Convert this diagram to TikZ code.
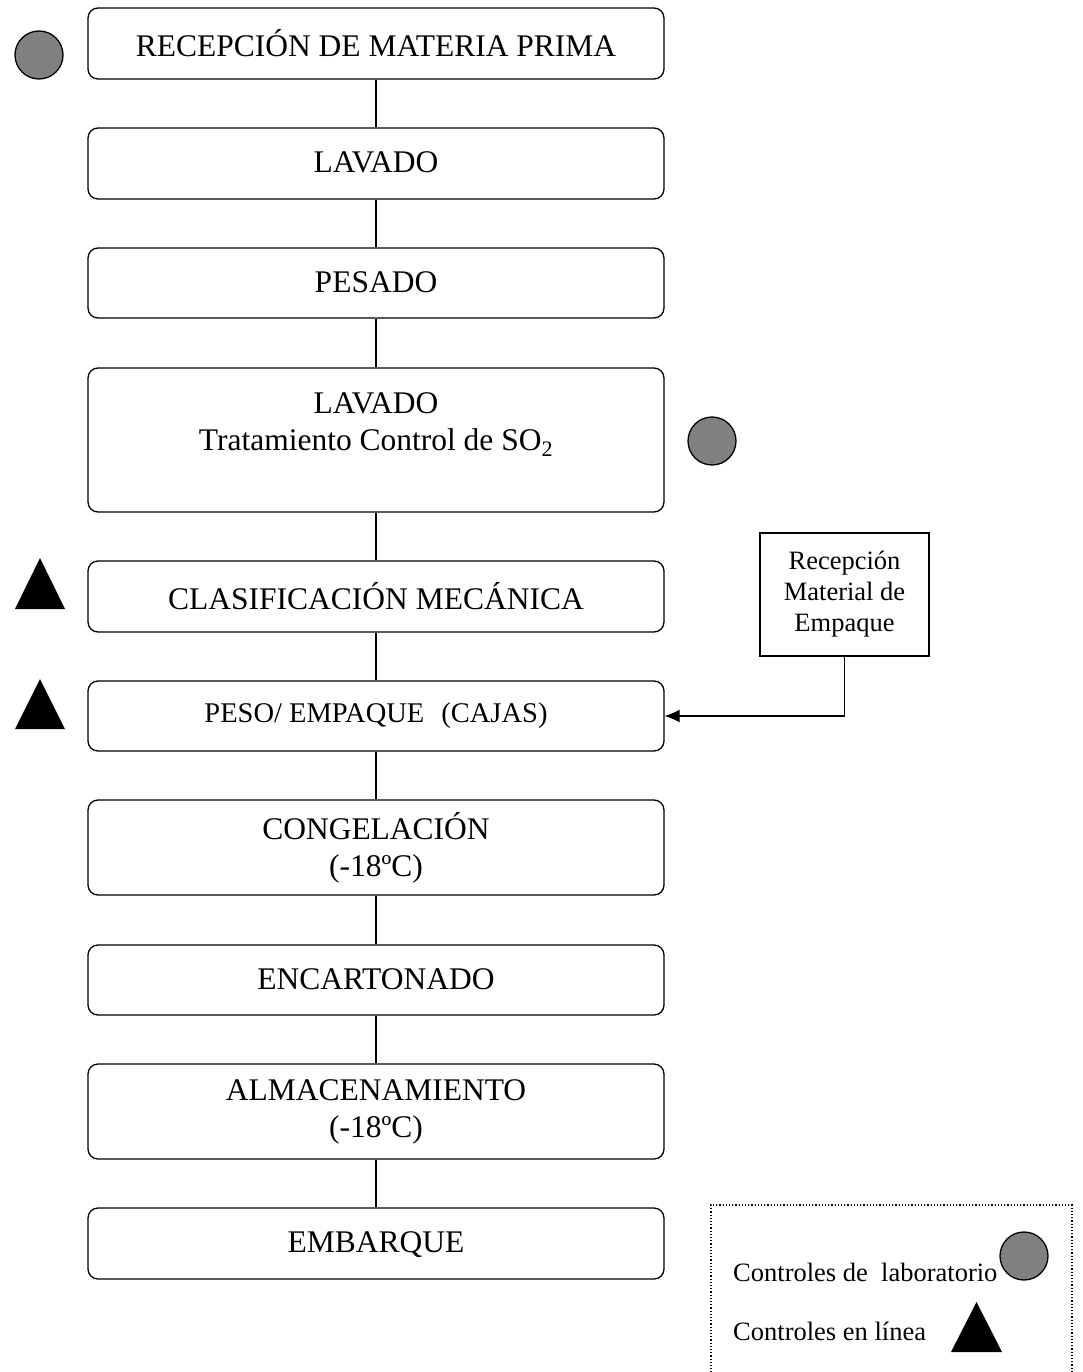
\documentclass[tikz,border=0pt]{standalone}
\usepackage{fontspec}
\setmainfont{Liberation Serif}
\usetikzlibrary{arrows.meta}
\definecolor{dotgray}{RGB}{128,128,128}
\tikzset{
  procbox/.style={draw, line width=1.3pt, rounded corners=10pt, minimum width=576pt, align=center, inner sep=0pt,
    font=\fontsize{31.5}{37}\selectfont},
  capline/.style={text depth=0.2em},
  smallfont/.style={font=\fontsize{26.5}{31}\selectfont},
  labdot/.style={circle, draw, line width=1.3pt, fill=dotgray, minimum size=48pt, inner sep=0pt},
  linetri/.style={fill=black},
  link/.style={line width=1.3pt},
}
\begin{document}
\begin{tikzpicture}[x=1pt,y=-1pt]
\useasboundingbox (0,0) rectangle (1082,1372);
\node[procbox, capline, minimum height=71pt] (n1) at (376,43.5) {RECEPCIÓN DE MATERIA PRIMA};
\node[procbox, capline, minimum height=71pt] (n2) at (376,163.5) {LAVADO};
\node[procbox, capline, minimum height=70pt] (n3) at (376,283) {PESADO};
\node[procbox, minimum height=144pt] (n4) at (376,440) {LAVADO\\Tratamiento Control de SO\textsubscript{2}\\\mbox{}};
\node[procbox, capline, minimum height=71pt] (n5) at (376,596.5) {CLASIFICACIÓN MECÁNICA};
\node[procbox, minimum height=70pt, font=\fontsize{28.5}{33}\selectfont] (n6) at (376,716) {PESO/ EMPAQUE\hspace{0.6em}(CAJAS)};
\node[procbox, minimum height=95pt] (n7) at (376,847.5) {\raisebox{-3pt}{CONGELACIÓN}\\\raisebox{-3pt}{(-18ºC)}};
\node[procbox, capline, minimum height=70pt] (n8) at (376,980) {ENCARTONADO};
\node[procbox, minimum height=95pt] (n9) at (376,1111.5) {\raisebox{-3pt}{ALMACENAMIENTO}\\\raisebox{-3pt}{(-18ºC)}};
\node[procbox, capline, minimum height=71pt] (n10) at (376,1243.5) {EMBARQUE};
\foreach \a/\b in {n1/n2,n2/n3,n3/n4,n4/n5,n5/n6,n6/n7,n7/n8,n8/n9,n9/n10}
  \draw[link] (\a.south) -- (\b.north);
% packaging material box
\node[draw, line width=1.3pt, minimum width=169pt, minimum height=123pt, align=center, inner sep=0pt, smallfont] (pk) at (844.5,594.5) {Recepción\\Material de\\Empaque};
\draw[link, -{Latex[length=15pt,width=13pt]}] (pk.south) |- (n6.east);
% control marks
\node[labdot] (c1) at (39,55) {};
\node[labdot] (c2) at (712,441) {};
\path[linetri] (40,558) -- (65,609) -- (15,609) -- cycle;
\path[linetri] (40,679) -- (65,729) -- (15,729) -- cycle;
% legend
\node[draw, dotted, line width=1.2pt, minimum width=361pt, minimum height=190pt, inner sep=0pt] (leg) at (891.5,1300) {};
\node[smallfont, anchor=west, inner sep=0pt] (l1) at (733,1272) {Controles de\hspace{0.5em}laboratorio};
\node[labdot] (c3) at (1024,1256) {};
\node[smallfont, anchor=west, inner sep=0pt] (l2) at (733,1331) {Controles en línea};
\path[linetri] (976.5,1302) -- (1002,1352) -- (951,1352) -- cycle;
\end{tikzpicture}
\end{document}
